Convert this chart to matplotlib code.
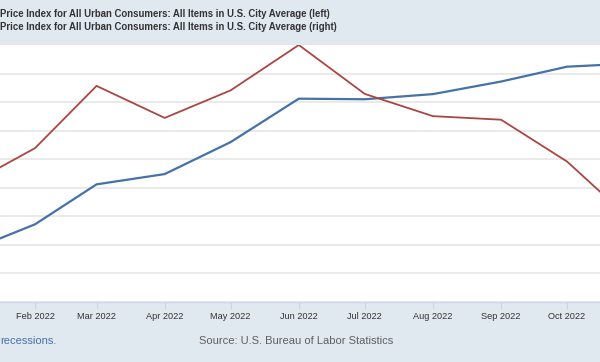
import matplotlib
matplotlib.use("Agg")
import matplotlib.pyplot as plt
import matplotlib.dates as mdates
import numpy as np
import datetime

## data (CPI-U, 2022, monthly)
months = ["2022-01-01", "2022-02-01", "2022-03-01", "2022-04-01", "2022-05-01", "2022-06-01",
          "2022-07-01", "2022-08-01", "2022-09-01", "2022-10-01", "2022-11-01"]
cpi_index = [281.9, 284.3, 287.8, 288.7, 291.5, 295.3, 295.25, 295.7, 296.8, 298.1, 298.4]
cpi_yoy = [7.48, 7.90, 8.60, 8.24, 8.55, 9.06, 8.51, 8.26, 8.22, 7.75, 7.05]
tick_months = ["2022-02-01", "2022-03-01", "2022-04-01", "2022-05-01", "2022-06-01",
               "2022-07-01", "2022-08-01", "2022-09-01", "2022-10-01"]
legend_left = "Price Index for All Urban Consumers: All Items in U.S. City Average (left)"
legend_right = "Price Index for All Urban Consumers: All Items in U.S. City Average (right)"
source_txt = "Source: U.S. Bureau of Labor Statistics"
note_txt = "recessions."

BG = "#e1e9f0"
BLUE = "#4572a7"
RED = "#aa4643"

plt.rcParams.update({"font.family": ["Liberation Sans", "DejaVu Sans"]})

dates = [datetime.datetime.strptime(d, "%Y-%m-%d") for d in months]
tdates = [datetime.datetime.strptime(d, "%Y-%m-%d") for d in tick_months]

fig = plt.figure(figsize=(6, 3.62), dpi=100, facecolor=BG)
W, H = 600.0, 362.0
ax = fig.add_axes([0, 1 - 302 / H, 1, 257 / H])
ax.set_facecolor("white")

# x range: the chart is cropped, Feb tick sits at 35px, Oct tick at 567px
pxday = (567 - 35) / float((tdates[-1] - tdates[0]).days)
x0 = mdates.date2num(tdates[0]) - 35 / pxday
x1 = mdates.date2num(tdates[-1]) + (W - 567) / pxday
ax.set_xlim(x0, x1)

ax.set_ylim(277.5, 300)
ax.set_yticks(np.arange(277.5, 300, 2.5))
ax.yaxis.grid(True, color="#e6e6e6", lw=1.2)
ax.set_axisbelow(True)
for s in ax.spines.values():
    s.set_visible(False)
ax.spines["bottom"].set_visible(True)
ax.spines["bottom"].set_color("#ccd6eb")
ax.spines["bottom"].set_linewidth(1.0)

ax.set_xticks(mdates.date2num(tdates))
ax.set_xticklabels([d.strftime("%b %Y") for d in tdates], fontsize=6.6, color="#333333")
ax.tick_params(axis="x", length=5, width=0.8, color="#ccd6eb", pad=2)

ax.plot(dates, cpi_index, color=BLUE, lw=1.6, clip_on=False, zorder=3)

ax2 = ax.twinx()
ax2.set_ylim(6.17, 9.06)
ax2.axis("off")
ax2.plot(dates, cpi_yoy, color=RED, lw=1.3, clip_on=True, zorder=3)

# twinx puts the left ticks back, so hide them here
ax.tick_params(axis="y", left=False, right=False, labelleft=False, labelright=False)

fig.text(0, 1 - 14 / H, legend_left, fontsize=6.9, fontweight="bold", color="#333333", va="center", ha="left")
fig.text(0, 1 - 27 / H, legend_right, fontsize=6.9, fontweight="bold", color="#333333", va="center", ha="left")
fig.text(0, 1 - 341 / H, note_txt, fontsize=8, color=BLUE, va="center", ha="left")
fig.text(296 / W, 1 - 341 / H, source_txt, fontsize=8, color="#5f5f5f", va="center", ha="center")

fig.savefig("out.png", dpi=100, facecolor=BG)
